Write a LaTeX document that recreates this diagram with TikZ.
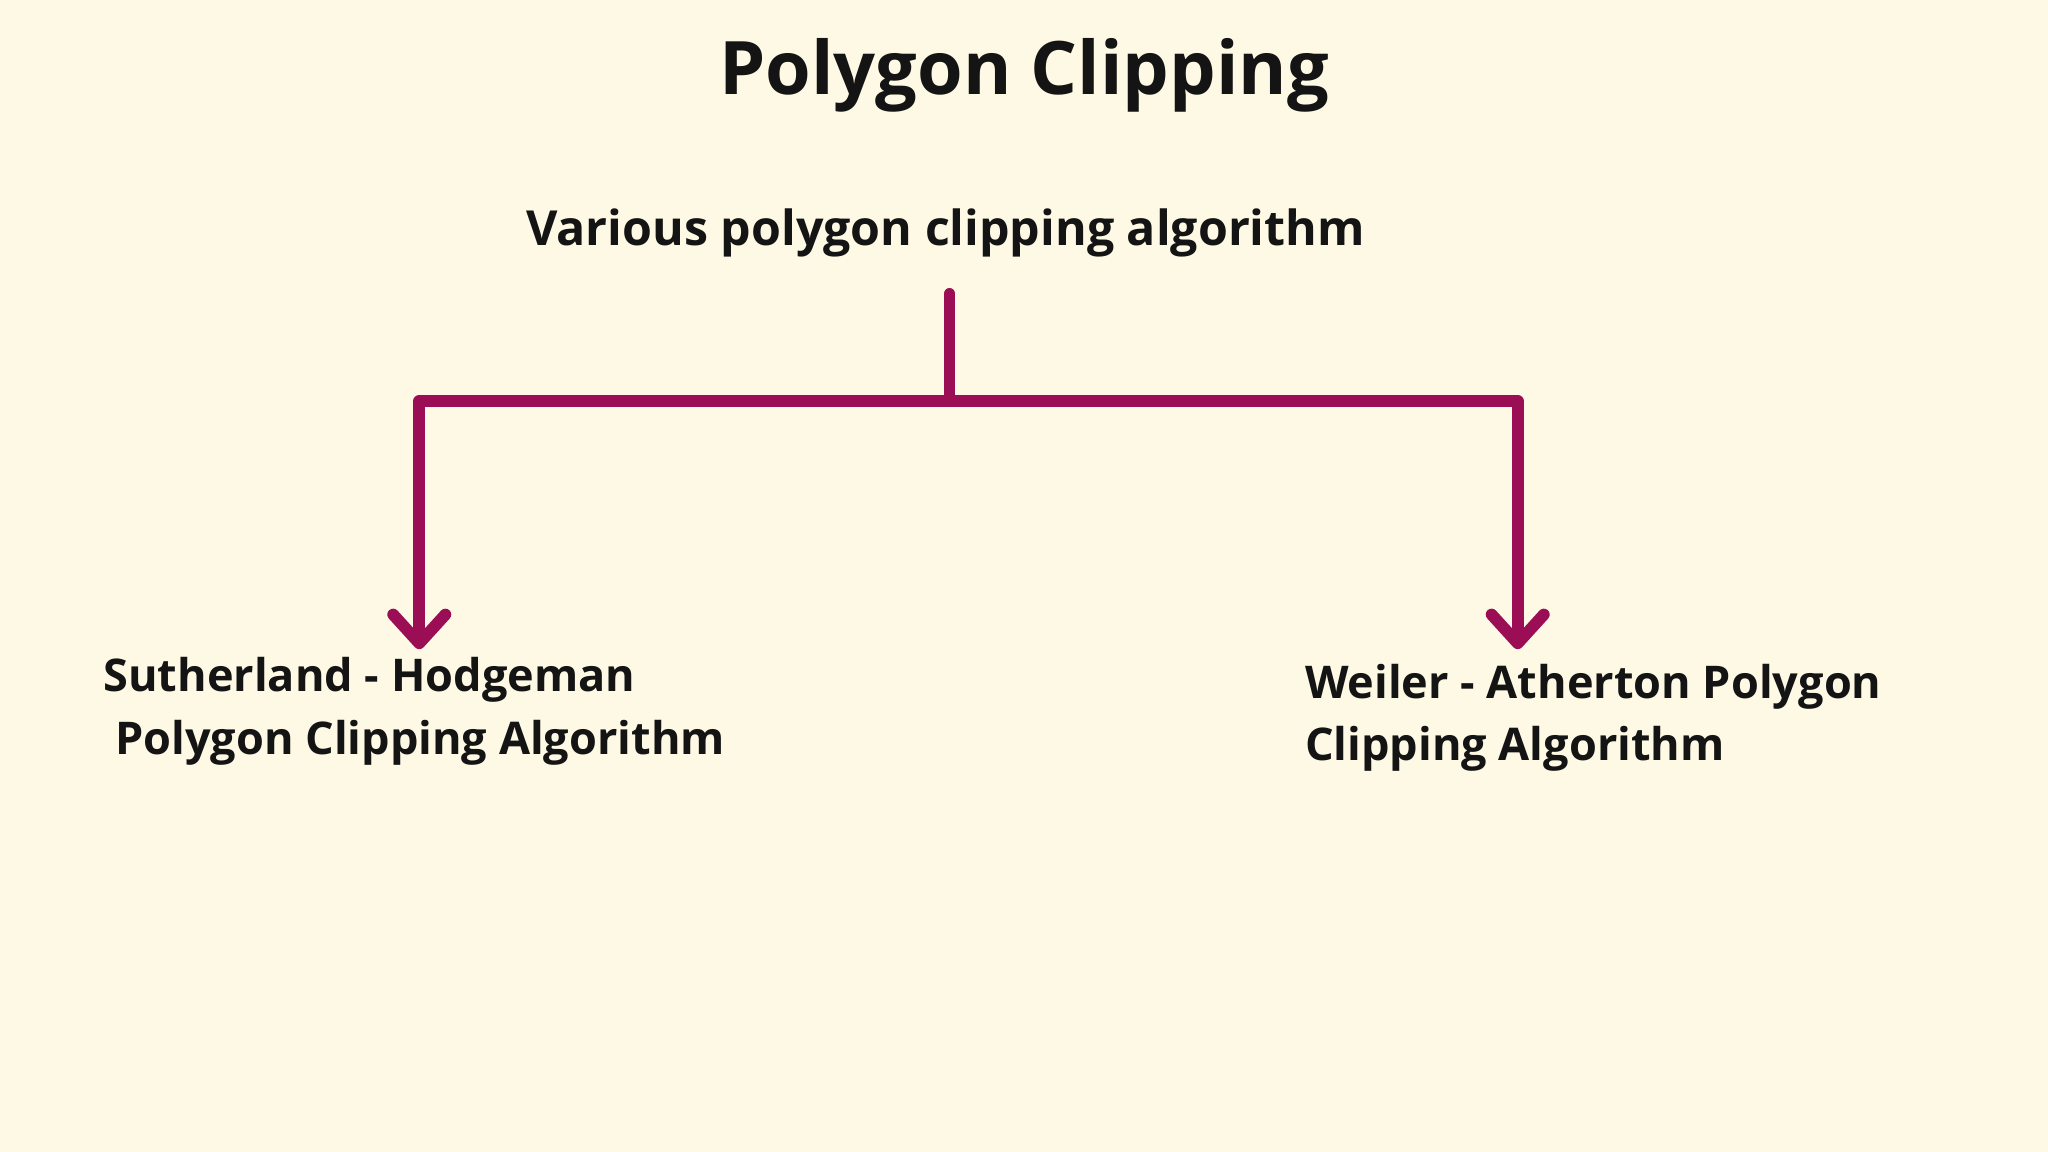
\documentclass[tikz,border=0pt]{standalone}
\usepackage{fontspec}
\setmainfont{Open Sans}
\usetikzlibrary{arrows.meta}
\definecolor{bg}{HTML}{FEF9E4}
\definecolor{plum}{HTML}{9B0E55}
\definecolor{ink}{HTML}{141414}
\begin{document}
\begin{tikzpicture}[x=1pt,y=-1pt,
  lbl/.style={inner sep=0pt,text=ink,font=\bfseries\fontsize{34.5}{48}\selectfont,align=left,anchor=north west},
  conn/.style={draw=plum,line width=9pt,line cap=round,line join=round},
  tip/.style={-{Straight Barb[length=22pt,width=40pt,line cap=round,line join=round]}}]
\fill[bg] (0,0) rectangle (1568,882);
\useasboundingbox (0,0) rectangle (1568,882);
\node[inner sep=0pt,text=ink,font=\bfseries\fontsize{56.5}{60}\selectfont] (title) at (784,58) {Polygon Clipping};
\node[inner sep=0pt,text=ink,font=\bfseries\fontsize{37}{42}\selectfont] (top) at (724,178) {Various polygon clipping algorithm};
\node[lbl] (left) at (79,503) {Sutherland - Hodgeman\\\ Polygon Clipping Algorithm};
\node[lbl] (right) at (999,508) {Weiler - Atherton Polygon\\Clipping Algorithm};
\coordinate (stem) at (727,225);
\coordinate (junc) at (727,307);
\coordinate (lc) at (321,307);
\coordinate (rc) at (1162,307);
\coordinate (la) at (321,497);
\coordinate (ra) at (1162,497);
\draw[conn] (stem) -- (junc);
\draw[conn,tip] (junc) -- (lc) -- (la);
\draw[conn,tip] (junc) -- (rc) -- (ra);
\end{tikzpicture}
\end{document}
